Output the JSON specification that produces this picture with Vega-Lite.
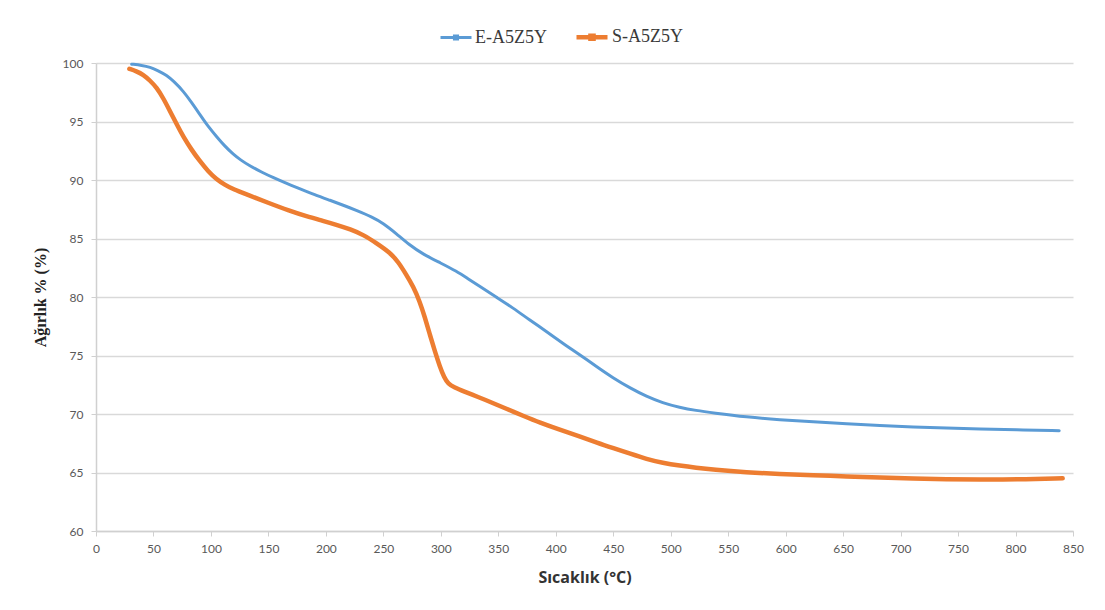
{
  "$schema": "https://vega.github.io/schema/vega-lite/v6.json",
  "autosize": "none",
  "width": 977,
  "height": 468,
  "padding": {"left": 96, "top": 63, "right": 32, "bottom": 79},
  "background": "white",
  "config": {"view": {"stroke": null}},
  "data": {"values": [
    {"s":"E-A5Z5Y","T":31,"W":99.9},{"s":"E-A5Z5Y","T":40,"W":99.8},{"s":"E-A5Z5Y","T":47,"W":99.65},{"s":"E-A5Z5Y","T":54,"W":99.35},{"s":"E-A5Z5Y","T":61.5,"W":98.95},{"s":"E-A5Z5Y","T":68,"W":98.4},{"s":"E-A5Z5Y","T":75.9,"W":97.6},{"s":"E-A5Z5Y","T":83,"W":96.65},{"s":"E-A5Z5Y","T":90.4,"W":95.6},{"s":"E-A5Z5Y","T":97,"W":94.65},{"s":"E-A5Z5Y","T":105,"W":93.7},{"s":"E-A5Z5Y","T":112,"W":92.9},{"s":"E-A5Z5Y","T":119.4,"W":92.2},{"s":"E-A5Z5Y","T":126,"W":91.7},{"s":"E-A5Z5Y","T":133.9,"W":91.2},{"s":"E-A5Z5Y","T":144,"W":90.68},{"s":"E-A5Z5Y","T":154.2,"W":90.2},{"s":"E-A5Z5Y","T":166,"W":89.7},{"s":"E-A5Z5Y","T":177.4,"W":89.25},{"s":"E-A5Z5Y","T":190,"W":88.75},{"s":"E-A5Z5Y","T":204,"W":88.25},{"s":"E-A5Z5Y","T":215,"W":87.85},{"s":"E-A5Z5Y","T":226.7,"W":87.4},{"s":"E-A5Z5Y","T":240,"W":86.85},{"s":"E-A5Z5Y","T":250,"W":86.3},{"s":"E-A5Z5Y","T":261.5,"W":85.4},{"s":"E-A5Z5Y","T":272,"W":84.5},{"s":"E-A5Z5Y","T":284.6,"W":83.65},{"s":"E-A5Z5Y","T":300,"W":82.9},{"s":"E-A5Z5Y","T":313.7,"W":82.2},{"s":"E-A5Z5Y","T":323,"W":81.6},{"s":"E-A5Z5Y","T":333.9,"W":80.9},{"s":"E-A5Z5Y","T":348,"W":80.0},{"s":"E-A5Z5Y","T":362.9,"W":79.06},{"s":"E-A5Z5Y","T":377,"W":78.05},{"s":"E-A5Z5Y","T":391.9,"W":77.06},{"s":"E-A5Z5Y","T":406,"W":76.05},{"s":"E-A5Z5Y","T":420.9,"W":75.07},{"s":"E-A5Z5Y","T":435,"W":74.08},{"s":"E-A5Z5Y","T":449.8,"W":73.08},{"s":"E-A5Z5Y","T":465,"W":72.2},{"s":"E-A5Z5Y","T":478.9,"W":71.5},{"s":"E-A5Z5Y","T":493,"W":70.95},{"s":"E-A5Z5Y","T":507.8,"W":70.56},{"s":"E-A5Z5Y","T":522,"W":70.3},{"s":"E-A5Z5Y","T":536.8,"W":70.1},{"s":"E-A5Z5Y","T":566,"W":69.74},{"s":"E-A5Z5Y","T":595,"W":69.51},{"s":"E-A5Z5Y","T":624,"W":69.33},{"s":"E-A5Z5Y","T":653,"W":69.17},{"s":"E-A5Z5Y","T":682,"W":69.02},{"s":"E-A5Z5Y","T":711,"W":68.89},{"s":"E-A5Z5Y","T":740,"W":68.8},{"s":"E-A5Z5Y","T":769,"W":68.72},{"s":"E-A5Z5Y","T":800,"W":68.65},{"s":"E-A5Z5Y","T":838,"W":68.57},
    {"s":"S-A5Z5Y","T":29,"W":99.5},{"s":"S-A5Z5Y","T":35,"W":99.3},{"s":"S-A5Z5Y","T":41.2,"W":99.0},{"s":"S-A5Z5Y","T":47,"W":98.5},{"s":"S-A5Z5Y","T":52.8,"W":97.9},{"s":"S-A5Z5Y","T":58.5,"W":97.0},{"s":"S-A5Z5Y","T":64.3,"W":95.9},{"s":"S-A5Z5Y","T":70,"W":94.8},{"s":"S-A5Z5Y","T":75.9,"W":93.7},{"s":"S-A5Z5Y","T":83,"W":92.6},{"s":"S-A5Z5Y","T":90.4,"W":91.6},{"s":"S-A5Z5Y","T":97.5,"W":90.75},{"s":"S-A5Z5Y","T":105,"W":90.05},{"s":"S-A5Z5Y","T":112,"W":89.6},{"s":"S-A5Z5Y","T":119.4,"W":89.2},{"s":"S-A5Z5Y","T":133,"W":88.7},{"s":"S-A5Z5Y","T":148.4,"W":88.1},{"s":"S-A5Z5Y","T":168.7,"W":87.35},{"s":"S-A5Z5Y","T":183,"W":86.9},{"s":"S-A5Z5Y","T":197.7,"W":86.5},{"s":"S-A5Z5Y","T":210,"W":86.15},{"s":"S-A5Z5Y","T":221,"W":85.8},{"s":"S-A5Z5Y","T":233,"W":85.3},{"s":"S-A5Z5Y","T":244,"W":84.6},{"s":"S-A5Z5Y","T":255.7,"W":83.8},{"s":"S-A5Z5Y","T":263,"W":83.0},{"s":"S-A5Z5Y","T":270,"W":81.9},{"s":"S-A5Z5Y","T":276,"W":80.9},{"s":"S-A5Z5Y","T":281.7,"W":79.6},{"s":"S-A5Z5Y","T":286,"W":78.3},{"s":"S-A5Z5Y","T":290.4,"W":76.8},{"s":"S-A5Z5Y","T":295,"W":75.3},{"s":"S-A5Z5Y","T":299,"W":74.1},{"s":"S-A5Z5Y","T":303,"W":73.1},{"s":"S-A5Z5Y","T":306.3,"W":72.6},{"s":"S-A5Z5Y","T":312,"W":72.25},{"s":"S-A5Z5Y","T":319.4,"W":71.95},{"s":"S-A5Z5Y","T":333.9,"W":71.4},{"s":"S-A5Z5Y","T":342.6,"W":71.05},{"s":"S-A5Z5Y","T":357,"W":70.45},{"s":"S-A5Z5Y","T":371.6,"W":69.85},{"s":"S-A5Z5Y","T":386,"W":69.27},{"s":"S-A5Z5Y","T":403.5,"W":68.66},{"s":"S-A5Z5Y","T":421,"W":68.09},{"s":"S-A5Z5Y","T":436,"W":67.55},{"s":"S-A5Z5Y","T":450,"W":67.09},{"s":"S-A5Z5Y","T":465,"W":66.6},{"s":"S-A5Z5Y","T":479,"W":66.15},{"s":"S-A5Z5Y","T":493,"W":65.82},{"s":"S-A5Z5Y","T":508,"W":65.58},{"s":"S-A5Z5Y","T":522,"W":65.4},{"s":"S-A5Z5Y","T":537,"W":65.24},{"s":"S-A5Z5Y","T":566,"W":65.02},{"s":"S-A5Z5Y","T":595,"W":64.87},{"s":"S-A5Z5Y","T":624,"W":64.76},{"s":"S-A5Z5Y","T":653,"W":64.67},{"s":"S-A5Z5Y","T":682,"W":64.56},{"s":"S-A5Z5Y","T":711,"W":64.47},{"s":"S-A5Z5Y","T":740,"W":64.42},{"s":"S-A5Z5Y","T":769,"W":64.39},{"s":"S-A5Z5Y","T":800,"W":64.4},{"s":"S-A5Z5Y","T":841,"W":64.5}
  ]},
  "mark": {"type": "line", "interpolate": "basis", "strokeCap": "round"},
  "encoding": {
    "x": {
      "field": "T", "type": "quantitative",
      "scale": {"domain": [0, 850], "nice": false},
      "axis": {
        "title": "Sıcaklık (°C)",
        "values": [0,50,100,150,200,250,300,350,400,450,500,550,600,650,700,750,800,850],
        "grid": false, "labelFlush": false, "labelOverlap": false,
        "domainColor": "#d0d0d0", "domainWidth": 1.5,
        "tickColor": "#d0d0d0", "tickSize": 5,
        "labelFont": "Lato", "labelFontSize": 12, "labelColor": "#595959", "labelPadding": 7,
        "titleFont": "Open Sans", "titleFontSize": 16, "titleFontWeight": "bold", "titleColor": "#333333", "titlePadding": 15
      }
    },
    "y": {
      "field": "W", "type": "quantitative",
      "scale": {"domain": [60, 100], "nice": false, "zero": false},
      "axis": {
        "title": "Ağırlık % (%)",
        "values": [60,65,70,75,80,85,90,95,100],
        "grid": true, "gridColor": "#d9d9d9", "gridWidth": 1.3, "labelFlush": false,
        "domainColor": "#d0d0d0", "domainWidth": 1.5,
        "tickColor": "#d0d0d0", "tickSize": 5,
        "labelFont": "Lato", "labelFontSize": 12, "labelColor": "#595959", "labelPadding": 8,
        "titleFont": "Liberation Serif", "titleFontSize": 16, "titleFontWeight": "bold", "titleColor": "#222222", "titlePadding": 14
      }
    },
    "color": {
      "field": "s", "type": "nominal",
      "scale": {"domain": ["E-A5Z5Y", "S-A5Z5Y"], "range": ["#5B9BD5", "#ED7D31"]},
      "legend": {
        "title": null,
        "orient": "none", "legendX": 343, "legendY": -44,
        "direction": "horizontal",
        "symbolType": "M-1,0H1M-0.1,-0.1H0.1V0.1H-0.1Z",
        "symbolSize": 961, "symbolStrokeWidth": 1.2,
        "labelFont": "Liberation Serif", "labelFontSize": 18, "labelColor": "#3a3a3a",
        "labelOffset": 2, "columnPadding": 20
      }
    },
    "strokeWidth": {
      "field": "s", "type": "nominal",
      "scale": {"domain": ["E-A5Z5Y", "S-A5Z5Y"], "range": [3, 4.5]},
      "legend": null
    }
  }
}
